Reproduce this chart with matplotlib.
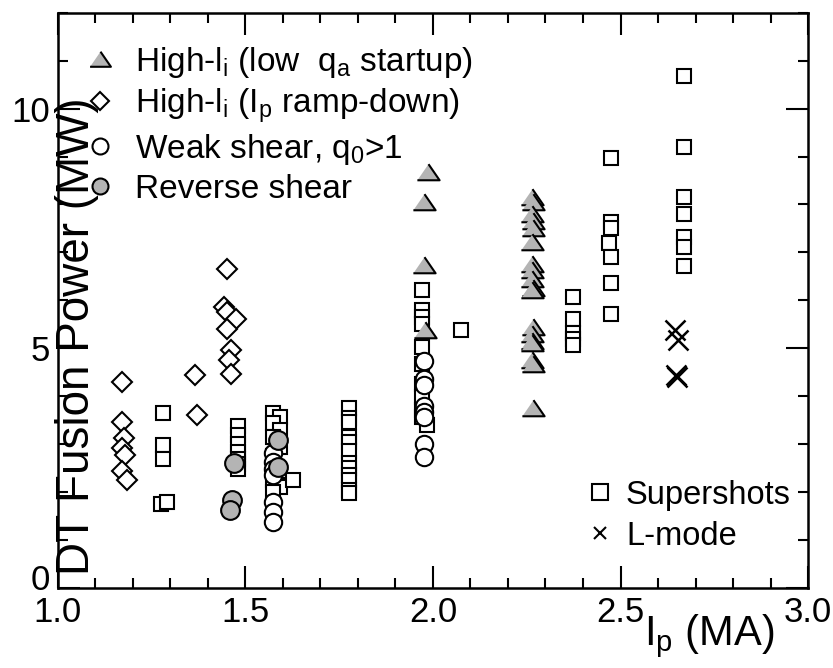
import matplotlib
matplotlib.use('Agg')
import matplotlib.pyplot as plt
import matplotlib.transforms as mtransforms
from matplotlib.lines import Line2D
from matplotlib.ticker import MultipleLocator

plt.rcParams['font.family'] = ['Liberation Sans', 'DejaVu Sans']
plt.rcParams['mathtext.default'] = 'regular'

# ---- data ----
# supershots (open squares)
ss_x = [1.279, 1.279, 1.279, 1.275, 1.29,
        1.479, 1.479, 1.479, 1.479, 1.479, 1.479, 1.479,
        1.574, 1.592, 1.574, 1.592, 1.574, 1.592, 1.574, 1.592, 1.574, 1.592, 1.574, 1.627,
        1.776, 1.776, 1.776, 1.776, 1.776, 1.776, 1.776, 1.776, 1.776, 1.776, 1.776, 1.776,
        1.972, 1.972, 1.972, 1.972, 1.972, 1.972, 1.972, 1.972, 1.972, 1.972, 1.983,
        2.076,
        2.374, 2.374, 2.374, 2.374, 2.374,
        2.474, 2.474, 2.474, 2.468, 2.474, 2.474, 2.474,
        2.669, 2.669, 2.669, 2.669, 2.669, 2.669, 2.669]
ss_y = [3.64, 2.98, 2.70, 1.76, 1.80,
        3.38, 3.19, 3.01, 2.84, 2.70, 2.58, 2.48,
        3.64, 3.57, 3.45, 3.30, 3.15, 2.95, 2.75, 2.45, 2.25, 2.10, 2.00, 2.25,
        3.76, 3.55, 3.47, 3.15, 3.05, 2.85, 2.60, 2.51, 2.35, 2.25, 2.04, 1.98,
        6.22, 5.79, 5.65, 5.51, 5.03, 4.68, 4.26, 3.99, 3.71, 3.57, 3.40,
        5.375,
        6.07, 5.62, 5.31, 5.20, 5.06,
        8.96, 7.63, 7.51, 7.20, 6.90, 6.37, 5.72,
        10.67, 9.19, 8.15, 7.81, 7.32, 7.11, 6.71]

# weak shear, q0>1 (open circles)
ws_x = [1.574, 1.574, 1.574, 1.574, 1.574, 1.574, 1.574,
        1.975, 1.975, 1.975, 1.975, 1.975, 1.975, 1.975, 1.975]
ws_y = [2.81, 2.62, 2.49, 2.35, 1.80, 1.59, 1.38,
        4.74, 4.35, 4.23, 3.79, 3.67, 3.57, 3.01, 2.74]

# high-li, low qa startup (grey triangles)
st_x = [1.988, 1.976, 1.976, 1.978,
        2.265, 2.268, 2.265, 2.268, 2.268, 2.265, 2.263, 2.265, 2.265, 2.268, 2.265,
        2.268, 2.265, 2.263, 2.265, 2.265, 2.268, 2.268]
st_y = [8.67, 8.05, 6.73, 5.375,
        8.15, 8.05, 7.81, 7.65, 7.51, 7.21, 6.76, 6.63, 6.45, 6.26, 6.22,
        5.44, 5.29, 5.15, 5.10, 4.75, 4.67, 3.76]

# reverse shear (grey circles)
rs_x = [1.470, 1.463, 1.460, 1.586, 1.586]
rs_y = [2.60, 1.83, 1.63, 3.08, 2.53]

# high-li, Ip ramp-down (open diamonds)
rd_x = [1.170, 1.170, 1.175, 1.170, 1.180, 1.170, 1.185,
        1.365, 1.371,
        1.450, 1.443, 1.450, 1.476, 1.450, 1.461, 1.456, 1.462]
rd_y = [4.30, 3.47, 3.12, 2.93, 2.78, 2.45, 2.25,
        4.44, 3.60,
        6.66, 5.86, 5.76, 5.62, 5.41, 4.97, 4.75, 4.47]

# L-mode (crosses)
lm_x = [2.645, 2.654, 2.648, 2.650]
lm_y = [5.375, 5.17, 4.44, 4.40]

grey = '#b4b4b4'
tri = [(-1, -0.7), (1, -0.7), (0, 0.75)]
narrow = ['Liberation Sans Narrow', 'Liberation Sans', 'DejaVu Sans']

fig = plt.figure(figsize=(8.33, 6.68), dpi=100)
ax = fig.add_axes([0.0696, 0.1198, 0.9004, 0.8612])

ax.plot(ss_x, ss_y, ls='none', marker='s', ms=9.5, mfc='white', mec='black', mew=1.5)
ax.plot(ws_x, ws_y, ls='none', marker='o', ms=12.5, mfc='white', mec='black', mew=1.5)
ax.plot(st_x, st_y, ls='none', marker=tri, ms=16, mfc=grey, mec='black', mew=1.5)
ax.plot(rs_x, rs_y, ls='none', marker='o', ms=13.5, mfc=grey, mec='black', mew=1.5)
ax.plot(rd_x, rd_y, ls='none', marker='D', ms=10, mfc='white', mec='black', mew=1.5)
ax.plot(lm_x, lm_y, ls='none', marker='x', ms=15, mec='black', mew=1.8)

ax.set_xlim(1.0, 3.0)
ax.set_ylim(0, 12)
ax.xaxis.set_minor_locator(MultipleLocator(0.1))
ax.yaxis.set_minor_locator(MultipleLocator(1))
ax.set_xticks([1.0, 1.5, 2.0, 2.5, 3.0])
ax.set_xticklabels(['1.0', '1.5', '2.0', '2.5', '3.0'])
ax.set_yticks([0, 5, 10])
ax.tick_params(which='both', direction='in', top=True, right=True, width=1.5, labelsize=25)
ax.tick_params(which='major', length=16, pad=6)
ax.tick_params(which='minor', length=7)
for s in ax.spines.values():
    s.set_linewidth(1.8)

# the "0" label sits a little above its tick in the original
zero = ax.yaxis.get_major_ticks()[0].label1
zero.set_transform(zero.get_transform() +
                   mtransforms.ScaledTranslation(0, 8 / 72, fig.dpi_scale_trans))

ax.set_ylabel('DT Fusion Power (MW)', fontsize=33)
ax.yaxis.set_label_coords(0.055, 0.4375)
ax.text(0.868, -0.083, 'I$_p$ (MA)', transform=ax.transAxes, fontsize=30,
        family=narrow, ha='center', va='center')

h1 = [Line2D([], [], ls='none', marker=tri, ms=15, mfc=grey, mec='black', mew=1.5),
      Line2D([], [], ls='none', marker='D', ms=9, mfc='white', mec='black', mew=1.5),
      Line2D([], [], ls='none', marker='o', ms=11.5, mfc='white', mec='black', mew=1.5),
      Line2D([], [], ls='none', marker='o', ms=11.5, mfc=grey, mec='black', mew=1.5)]
labels1 = ['High-l$_i$ (low  q$_a$ startup)', 'High-l$_i$ (I$_p$ ramp-down)',
           'Weak shear, q$_0$>1', 'Reverse shear']
leg1 = ax.legend(h1, labels1, loc='upper left', bbox_to_anchor=(0.0, 0.99),
                 frameon=False, fontsize=24, handlelength=0.95, handletextpad=0.55,
                 borderpad=0.4, borderaxespad=0.4, labelspacing=0.2)
ax.add_artist(leg1)

h2 = [Line2D([], [], ls='none', marker='s', ms=11, mfc='white', mec='black', mew=1.5),
      Line2D([], [], ls='none', marker='x', ms=9, mec='black', mew=1.5)]
ax.legend(h2, ['Supershots', 'L-mode'], loc='lower right', bbox_to_anchor=(1.012, 0.018),
          frameon=False, fontsize=23.5, handlelength=1.0, handletextpad=0.3,
          borderpad=0.4, borderaxespad=0.4, labelspacing=0.3)

fig.savefig('out.png', dpi=100)
